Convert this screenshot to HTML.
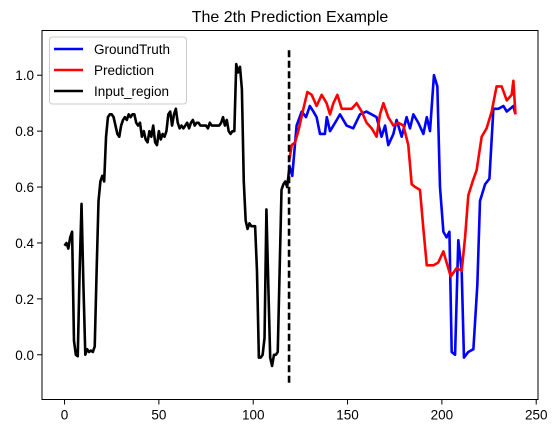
<!DOCTYPE html>
<html><head><meta charset="utf-8"><style>
html,body{margin:0;padding:0;background:#fff;}
svg{display:block;font-family:"Liberation Sans","DejaVu Sans",sans-serif;}
</style></head><body>
<svg id="chart" width="559" height="433" viewBox="0 0 559 433" xmlns="http://www.w3.org/2000/svg">
<text x="290" y="22" font-size="16" text-anchor="middle">The 2th Prediction Example</text>
<g id="marks"></g>
<rect x="42" y="30.5" width="496" height="369" fill="none" stroke="#000" stroke-width="1"/>
<g id="ticks"></g>
<g>
<rect x="49.5" y="37" width="137" height="67" rx="3" fill="#fff" fill-opacity="0.8" stroke="#ccc"/>
<line x1="54" y1="49" x2="83" y2="49" stroke="#0000ff" stroke-width="2.6"/>
<text x="94" y="54" font-size="13.5">GroundTruth</text>
<line x1="54" y1="70" x2="83" y2="70" stroke="#ff0000" stroke-width="2.6"/>
<text x="94" y="75" font-size="13.5">Prediction</text>
<line x1="54" y1="91" x2="83" y2="91" stroke="#000" stroke-width="2.6"/>
<text x="94" y="96" font-size="13.5">Input_region</text>
</g>
</svg>
<script>
const inputValues = [0.39,0.40,0.38,0.42,0.44,0.05,0.0,-0.005,0.3,0.54,
0.25,0.0,0.02,0.01,0.015,0.01,0.03,0.3,0.55,0.62,
0.64,0.62,0.78,0.85,0.86,0.86,0.85,0.82,0.79,0.78,
0.82,0.84,0.85,0.84,0.86,0.85,0.86,0.86,0.83,0.82,
0.83,0.78,0.80,0.77,0.76,0.80,0.78,0.82,0.76,0.75,
0.80,0.77,0.79,0.78,0.80,0.86,0.87,0.82,0.86,0.88,
0.83,0.81,0.82,0.81,0.82,0.83,0.81,0.83,0.84,0.82,
0.83,0.83,0.82,0.82,0.82,0.82,0.81,0.83,0.82,0.82,
0.82,0.82,0.82,0.83,0.85,0.82,0.84,0.80,0.79,0.80,
0.80,1.04,1.01,1.03,0.95,0.62,0.48,0.45,0.47,0.46,
0.46,0.46,0.3,-0.01,-0.01,0.0,0.06,0.52,0.25,-0.01,
-0.04,0.0,0.0,0.01,0.3,0.59,0.61,0.62,0.60,0.66];
const gtIndex = [119,120.7,123,125.7,128,130,131.9,133.6,135.4,138,139,140.7,143.4,146,149.5,153,156.6,160,165.4,168,169.9,171.6,174.3,176,178.7,181.3,183.1,184.9,187.5,190.2,192,193.7,195.8,197.6,199,200.8,202.5,204,205.2,207,208.7,210.5,211.7,214,216.7,218.8,220.2,222.9,225.2,227.3,230,232.6,234.4,237.9,239];
const gtValues = [0.68,0.64,0.82,0.87,0.85,0.89,0.87,0.85,0.79,0.79,0.85,0.80,0.83,0.86,0.82,0.81,0.86,0.87,0.85,0.78,0.82,0.75,0.79,0.84,0.78,0.85,0.81,0.86,0.83,0.79,0.85,0.80,1.0,0.96,0.6,0.44,0.42,0.44,0.01,0.0,0.41,0.3,-0.01,0.01,0.02,0.25,0.55,0.61,0.63,0.88,0.88,0.89,0.87,0.89,0.86];
const predIndex = [119,120.4,122.2,123.9,126.6,128.7,131,133.6,136.3,138.9,140.7,142.5,144.6,146.9,149.5,152.2,154.8,157.5,160.1,162.8,165.4,167.2,169,171.6,174.3,176.9,179.6,182.2,184,185.8,188.4,190.2,192,195.5,198.1,200.8,202.5,204.7,207.8,210.5,212.3,214,216.3,218.4,221.1,223.7,226.4,229,231.7,234.4,237,237.9,239];
const predValues = [0.69,0.75,0.76,0.80,0.88,0.94,0.93,0.89,0.93,0.90,0.86,0.90,0.93,0.88,0.88,0.88,0.90,0.87,0.83,0.81,0.78,0.86,0.90,0.85,0.82,0.83,0.82,0.75,0.61,0.60,0.59,0.45,0.32,0.32,0.33,0.37,0.33,0.28,0.31,0.30,0.42,0.57,0.62,0.66,0.78,0.81,0.87,0.96,0.96,0.91,0.93,0.98,0.86];
const xTicks = [0,50,100,150,200,250];
const yTicks = [0.0,0.2,0.4,0.6,0.8,1.0];
const splitIndex = 119;

const X0=42, X1=538, Y0=399.5, Y1=30.5;
const xMin=-11.95, xMax=250.95, yMin=-0.16, yMax=1.16;
function sx(v){return X0+(v-xMin)/(xMax-xMin)*(X1-X0);}
function sy(v){return Y0-(v-yMin)/(yMax-yMin)*(Y0-Y1);}
const NS="http://www.w3.org/2000/svg";
const marks=document.getElementById('marks');
const ticks=document.getElementById('ticks');
function poly(xs,ys,color,name){
  const p=document.createElementNS(NS,'polyline');
  p.setAttribute('points',xs.map((x,i)=>sx(x).toFixed(2)+','+sy(ys[i]).toFixed(2)).join(' '));
  p.setAttribute('fill','none');p.setAttribute('stroke',color);
  p.setAttribute('stroke-width','2.6');p.setAttribute('stroke-linejoin','round');
  
  
  marks.appendChild(p);
}
poly(gtIndex,gtValues,'#0000ff','ground-truth-line');
poly(predIndex,predValues,'#ff0000','prediction-line');
poly(inputValues.map((v,i)=>i),inputValues,'#000000','input-region-line');
const d=document.createElementNS(NS,'line');
d.setAttribute('x1',sx(splitIndex));d.setAttribute('x2',sx(splitIndex));
d.setAttribute('y1',sy(-0.1));d.setAttribute('y2',sy(1.1));
d.setAttribute('stroke','#000');d.setAttribute('stroke-width','2.6');d.setAttribute('stroke-dasharray','7,3.5');


marks.appendChild(d);
xTicks.forEach(t=>{
  const l=document.createElementNS(NS,'line');
  l.setAttribute('x1',sx(t));l.setAttribute('x2',sx(t));l.setAttribute('y1',Y0);l.setAttribute('y2',Y0+5);
  l.setAttribute('stroke','#000');
  
  
  ticks.appendChild(l);
  const tx=document.createElementNS(NS,'text');
  tx.setAttribute('x',sx(t));tx.setAttribute('y',Y0+20);tx.setAttribute('font-size','13.5');tx.setAttribute('text-anchor','middle');
  tx.textContent=t;
  
  
  ticks.appendChild(tx);
});
yTicks.forEach(t=>{
  const l=document.createElementNS(NS,'line');
  l.setAttribute('x1',X0-5);l.setAttribute('x2',X0);l.setAttribute('y1',sy(t));l.setAttribute('y2',sy(t));
  l.setAttribute('stroke','#000');
  
  
  ticks.appendChild(l);
  const tx=document.createElementNS(NS,'text');
  tx.setAttribute('x',X0-8);tx.setAttribute('y',sy(t)+5);tx.setAttribute('font-size','13.5');tx.setAttribute('text-anchor','end');
  tx.textContent=t.toFixed(1);
  
  
  ticks.appendChild(tx);
});
</script>
</body></html>
